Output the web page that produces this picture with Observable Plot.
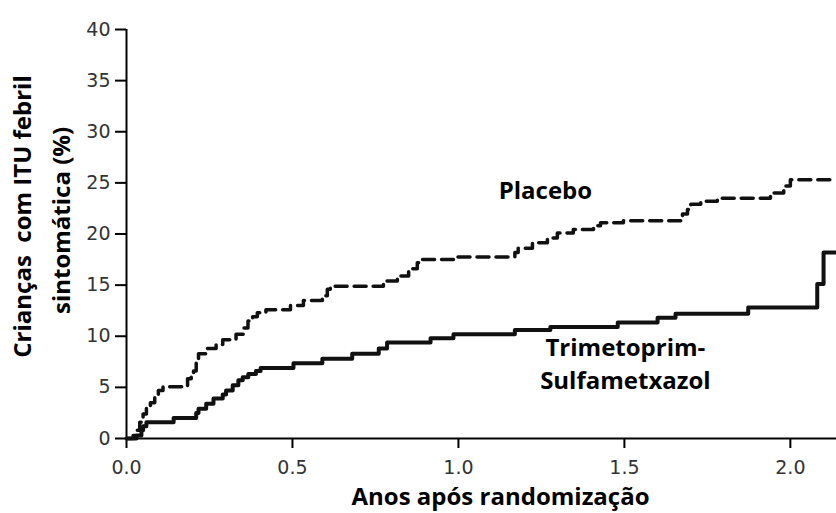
<!DOCTYPE html>
<html>
<head>
<meta charset="utf-8">
<script src="https://cdn.jsdelivr.net/npm/d3@7"></script>
<script src="https://cdn.jsdelivr.net/npm/@observablehq/plot@0.6"></script>
<style>
  html, body { margin: 0; padding: 0; background: #fff; }
  #chart { width: 836px; height: 513px; }
</style>
</head>
<body>
<div id="chart"></div>
<script>
// Years after randomization and cumulative % of children with febrile symptomatic UTI
const placeboYears = [0, 0.02, 0.03, 0.04, 0.05, 0.06, 0.072, 0.085, 0.096, 0.11, 0.184, 0.195, 0.202, 0.21, 0.217, 0.244, 0.27, 0.29, 0.33, 0.354, 0.366, 0.38, 0.394, 0.42, 0.494, 0.533, 0.59, 0.605, 0.614, 0.774, 0.816, 0.85, 0.876, 0.885, 0.985, 1.17, 1.18, 1.223, 1.268, 1.298, 1.346, 1.407, 1.428, 1.497, 1.675, 1.69, 1.70, 1.73, 1.78, 1.94, 1.98, 2.0, 2.139];
const placeboPct   = [0, 0.3, 0.8, 1.6, 2.4, 3.0, 3.5, 4.2, 4.7, 5.07, 5.85, 6.2, 6.6, 7.5, 8.3, 8.8, 9.2, 9.66, 10.2, 10.8, 11.5, 11.9, 12.3, 12.6, 13.0, 13.5, 13.95, 14.6, 14.9, 15.4, 15.9, 16.6, 17.2, 17.5, 17.75, 18.2, 18.6, 19.15, 19.6, 20.1, 20.45, 20.8, 21.1, 21.3, 21.95, 22.4, 22.9, 23.2, 23.5, 24.0, 24.7, 25.3, 25.3];

const tmpYears = [0, 0.03, 0.045, 0.05, 0.06, 0.142, 0.21, 0.217, 0.24, 0.262, 0.29, 0.3, 0.32, 0.337, 0.35, 0.367, 0.39, 0.404, 0.503, 0.59, 0.68, 0.76, 0.785, 0.916, 0.985, 1.17, 1.277, 1.48, 1.60, 1.654, 1.873, 2.081, 2.10, 2.139];
const tmpPct   = [0, 0.3, 0.8, 1.2, 1.6, 2.0, 2.5, 2.9, 3.4, 3.9, 4.3, 4.7, 5.2, 5.7, 6.0, 6.3, 6.6, 6.9, 7.35, 7.8, 8.3, 8.8, 9.4, 9.8, 10.2, 10.6, 10.9, 11.35, 11.8, 12.2, 12.8, 15.1, 18.2, 18.2];

const xTicks = [0, 0.5, 1.0, 1.5, 2.0];
const yTicks = [0, 5, 10, 15, 20, 25, 30, 35, 40];

const seriesLabels = ["Placebo", "Trimetoprim-", "Sulfametxazol"];
const labelYears = [1.262, 1.503, 1.503];
const labelPct = [24.2, 8.85, 5.55];

const xTitle = "Anos após randomização";
const yTitle1 = "Crianças  com ITU febril";
const yTitle2 = "sintomática (%)";

const placebo = placeboYears.map((t, i) => ({t, p: placeboPct[i]}));
const tmp = tmpYears.map((t, i) => ({t, p: tmpPct[i]}));
const labels = seriesLabels.map((s, i) => ({s, t: labelYears[i], p: labelPct[i], anchor: i === 0 ? "middle" : "start"}));

const boldFont = "'Open Sans', sans-serif";
const titleStyle = {fontFamily: boldFont, fontWeight: "bold", fontSize: 24, fill: "#000", textAnchor: "middle", lineAnchor: "middle"};

const chart = Plot.plot({
  width: 836,
  height: 513,
  marginTop: 29,
  marginBottom: 75,
  marginLeft: 126,
  marginRight: 0,
  style: {fontFamily: "'DejaVu Sans', sans-serif", fontSize: "19px", color: "#333", background: "#fff"},
  x: {domain: [0, 2.139], ticks: xTicks, tickFormat: d => d.toFixed(1), label: null},
  y: {domain: [0, 40], ticks: yTicks, label: null},
  marks: [
    Plot.axisX({ticks: xTicks, tickFormat: d => d.toFixed(1), tickSize: 10, tickPadding: 12, stroke: "#000", strokeWidth: 2, fill: "#333", label: null}),
    Plot.axisY({ticks: yTicks, tickSize: 11, tickPadding: 5, stroke: "#000", strokeWidth: 2, fill: "#333", label: null}),
    Plot.ruleX([0], {stroke: "#000", strokeWidth: 2}),
    Plot.ruleY([0], {stroke: "#000", strokeWidth: 2}),
    Plot.line(placebo, {x: "t", y: "p", curve: "step-after", stroke: "#111", strokeWidth: 3.5, strokeDasharray: "12,7"}),
    Plot.line(tmp, {x: "t", y: "p", curve: "step-after", stroke: "#111", strokeWidth: 4}),
    Plot.text(labels, {x: "t", y: "p", text: "s", textAnchor: "anchor", fontFamily: boldFont, fontWeight: "bold", fontSize: 24, fill: "#000"}),
    Plot.text([xTitle], {frameAnchor: "bottom", dx: 19, dy: 59, ...titleStyle}),
    Plot.text([yTitle1], {frameAnchor: "left", rotate: -90, dx: -103, dy: -17.5, ...titleStyle}),
    Plot.text([yTitle2], {frameAnchor: "left", rotate: -90, dx: -64, dy: -13.5, ...titleStyle})
  ]
});

document.getElementById("chart").appendChild(chart);
</script>
</body>
</html>
